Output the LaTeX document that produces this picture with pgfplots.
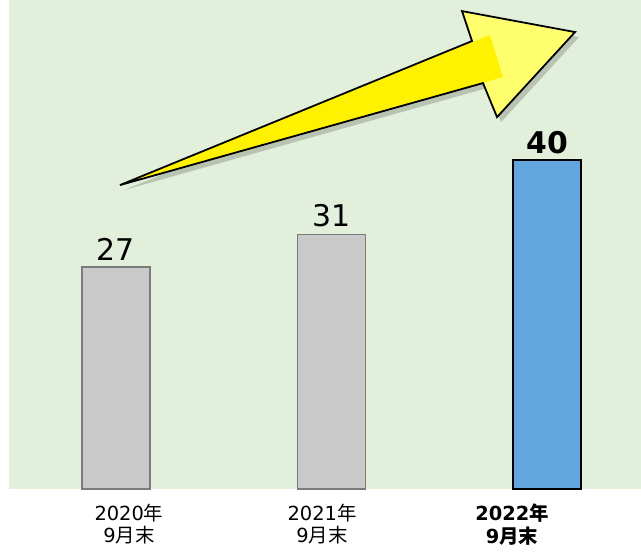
\documentclass[border=0pt]{standalone}
\usepackage{pgfplots}
\pgfplotsset{compat=1.18}
\usepackage{fontspec}
\setmainfont{DejaVu Sans}
\newfontfamily\cjk{Noto Sans CJK JP}
\definecolor{bggreen}{HTML}{E2EFDA}
\definecolor{bargray}{HTML}{C9C9C9}
\definecolor{bargrayd}{HTML}{7A7A7A}
\definecolor{barblue}{HTML}{62A6E0}
\definecolor{arrowlight}{HTML}{FFFF6E}
\begin{document}
\begin{tikzpicture}
\begin{axis}[name=ax, scale only axis, width=632bp, height=489bp,
  xmin=-0.4965, xmax=2.436, ymin=0, ymax=59.5,
  axis line style={draw=none}, ytick=\empty,
  xtick={0.06,0.956,1.838},
  xticklabels={{2020{\cjk 年}\\9{\cjk 月末}},{2021{\cjk 年}\\9{\cjk 月末}},{\bfseries 2022{\cjk 年}\\\bfseries 9{\cjk 月末}}},
  major tick length=0pt,
  xticklabel style={align=center, font=\fontsize{19.5}{23}\selectfont, anchor=north, yshift=-11bp},
  axis background/.style={fill=bggreen},
  /pgf/number format/assume math mode=true,
  ybar, bar width=68bp, bar shift=0pt,
  nodes near coords,
  clip=false]
\addplot[bar shift=0pt, fill=bargray, draw=bargrayd, line width=1.5pt,
  every node near coord/.append style={font=\fontsize{30}{36}\selectfont, text=black, yshift=3bp}]
  coordinates {(0,27) (1,31)};
\addplot[bar shift=0pt, fill=barblue, draw=black, line width=2pt,
  every node near coord/.append style={font=\bfseries\fontsize{30}{36}\selectfont, text=black, yshift=2bp}]
  coordinates {(2,40)};
% arrow shadow
\fill[black, opacity=0.18, xshift=4bp, yshift=-5bp]
  (rel axis cs:0.1756,0.6217) -- (rel axis cs:0.7326,0.9162) -- (rel axis cs:0.7168,0.9775)
  -- (rel axis cs:0.8956,0.9346) -- (rel axis cs:0.7722,0.7607) -- (rel axis cs:0.75,0.8303) -- cycle;
% arrow body
\fill[arrowlight]
  (rel axis cs:0.1756,0.6217) -- (rel axis cs:0.7326,0.9162) -- (rel axis cs:0.7168,0.9775)
  -- (rel axis cs:0.8956,0.9346) -- (rel axis cs:0.7722,0.7607) -- (rel axis cs:0.75,0.8303) -- cycle;
\fill[yellow]
  (rel axis cs:0.1756,0.6217) -- (rel axis cs:0.7611,0.9284) -- (rel axis cs:0.7816,0.8425) -- cycle;
\draw[black, line width=1.8pt, line join=miter]
  (rel axis cs:0.1756,0.6217) -- (rel axis cs:0.7326,0.9162) -- (rel axis cs:0.7168,0.9775)
  -- (rel axis cs:0.8956,0.9346) -- (rel axis cs:0.7722,0.7607) -- (rel axis cs:0.75,0.8303) -- cycle;
\end{axis}
\path (ax.south west) ++(-9bp,-65bp) rectangle (ax.north east);
\end{tikzpicture}
\end{document}
